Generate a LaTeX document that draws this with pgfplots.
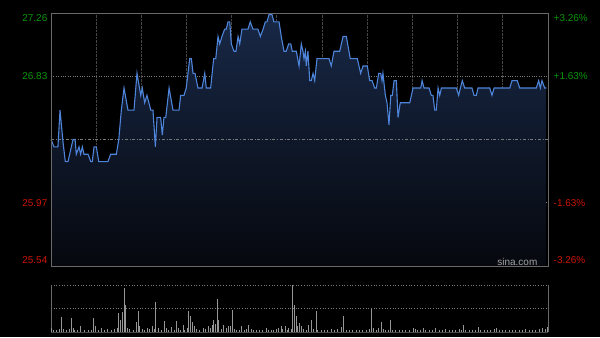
\documentclass[border=0pt]{standalone}
\usepackage{fontspec}
\setmainfont{Liberation Sans}
\usepackage{pgfplots}
\usepackage{pgfplotstable}
\pgfplotsset{compat=1.18}
\definecolor{framec}{RGB}{105,105,105}
\definecolor{gridc}{RGB}{70,70,70}
\definecolor{hgridc}{RGB}{120,120,120}
\definecolor{linec}{RGB}{78,132,218}
\definecolor{fillt}{RGB}{24,40,70}
\definecolor{fillb}{RGB}{6,8,14}
\definecolor{upc}{RGB}{10,150,10}
\definecolor{dnc}{RGB}{205,20,5}
\definecolor{volc}{RGB}{150,150,150}
\definecolor{wmc}{RGB}{165,165,165}

\pgfplotstableread{
m p
0 26.40
2 26.35
4.6 26.35
6 26.60
8 26.38
9.5 26.25
11.3 26.25
14.6 26.40
16 26.40
16.8 26.30
18.6 26.35
19.7 26.30
20.8 26.35
21.9 26.30
24.6 26.30
26.4 26.25
27.4 26.25
28.6 26.35
30.1 26.35
31.7 26.25
37.8 26.25
39.6 26.30
43.4 26.30
45 26.40
46.7 26.60
48.5 26.75
51.1 26.60
55.1 26.60
57.1 26.85
59.6 26.70
60.6 26.75
62.2 26.65
63.7 26.70
65.5 26.63
66.2 26.60
67.7 26.60
69.3 26.35
70.4 26.55
72.8 26.55
73.9 26.43
75 26.55
76.2 26.55
78.4 26.75
81 26.60
85 26.60
86.1 26.70
88.3 26.70
89.8 26.75
92.1 26.95
93.2 26.95
94.3 26.85
95.6 26.85
97.6 26.75
100.3 26.75
102.1 26.85
103.1 26.75
106 26.75
108 26.95
109.4 26.95
110.9 27.10
112 27.05
113.5 27.10
115.3 27.15
116.4 27.15
117.5 27.20
118.7 27.20
119.7 27.05
121.5 27.00
122.8 27.00
124.2 27.10
125.3 27.05
126.8 27.15
130.8 27.15
132.3 27.20
134.1 27.15
137.4 27.15
139 27.10
140.8 27.15
142.3 27.20
143.4 27.20
144.8 27.25
146.7 27.25
148 27.20
151.4 27.20
152.9 27.10
154.7 27.00
156.2 27.00
157.8 27.05
159.2 27.05
160.2 27.00
162.9 27.00
164.7 26.90
166.2 27.05
167.3 27.00
168 26.95
168.9 27.00
169.5 26.90
170.6 27.00
171.8 26.80
172.8 26.80
174 26.85
175.1 26.80
176.6 26.95
184.6 26.95
186.1 26.90
187.9 27.00
191.7 27.00
193.9 27.10
196.1 27.10
198.7 26.95
203.4 26.95
205.6 26.85
207.2 26.90
210 26.90
211.6 26.80
213.2 26.80
214.9 26.75
216 26.75
217.6 26.85
218.9 26.85
219.8 26.80
220.4 26.85
222 26.70
223.1 26.65
224.4 26.50
225.6 26.70
226.6 26.70
227.8 26.80
229.3 26.80
230.4 26.55
231.9 26.65
238.2 26.65
240.4 26.75
245.5 26.75
246.4 26.80
247.7 26.75
251 26.75
252.5 26.70
253.6 26.70
254.8 26.60
255.8 26.60
257 26.75
258.1 26.70
259.2 26.75
269.1 26.75
270.7 26.70
271.8 26.75
273.1 26.80
274.7 26.75
279.5 26.75
280.9 26.70
282.4 26.70
283.5 26.75
291.3 26.75
292.8 26.70
294.2 26.75
304.6 26.75
306.1 26.80
309.6 26.80
311.2 26.75
322.2 26.75
323.8 26.80
324.9 26.75
326 26.80
327.8 26.75
328.9 26.75
}\pricedata

\pgfplotstableread{
m v
0.2 4
1.3 2.3
3.5 2.3
5.3 3
6.9 15
8 3
10.2 2.3
12.4 3
13.5 14
14.6 4
15.7 2.3
17.5 2.3
19.7 6.3
22.4 2.3
24.6 1.7
26.8 2.3
28.3 14
29.7 5.7
31.2 2.3
33.4 4
35.6 1.7
37.4 3
40 2.3
42.3 3
43.8 4
44.9 19
46 12.3
47.6 19.7
48.5 44
49.6 27.3
50.7 4
51.8 3
54.4 2.3
56.7 9.7
57.8 20.7
58.9 5.7
60.6 3
62.2 2.3
64 4
65.5 3
67.1 5.7
68.4 3
69.5 30
71.1 4
73.3 2.3
75 11.3
76.6 4
78.1 2.3
79.9 5
81.7 2.3
83.2 10.7
84.3 4
86.1 2.3
87.6 7.3
88.8 2.3
90.5 4
91.4 20.7
92.7 15.7
93.8 9.7
94.9 5.7
96.5 3
98.7 2.3
100.9 4
102.5 3
104.2 5.7
106 4
107.1 7.3
108 11.7
109.3 8.3
110.6 33
111.4 11.7
112.9 3
114.5 7.3
116.2 4
117.8 5.7
119.1 6.3
120.7 21.7
121.8 3
123.3 2.3
125.1 2.3
126.6 6.3
128.4 2.3
130 3
131.3 7.3
132.8 3
134.4 2.3
136.2 1.7
138.4 1.7
140.6 2.3
142.8 4
144.6 2.3
146.1 1.7
147.7 2.3
149.4 3
151 4
152.8 6.3
153.9 3
155.4 5.7
156.7 2.3
157.8 4
159.4 3
160.5 47
161.6 27.3
162.7 15.7
163.8 5.7
164.9 9
166 5.7
167.6 3
169.4 2.3
170.9 7.3
172.7 12.3
174.2 3
176 20.7
177.1 2.3
179.3 2.3
181.5 1.7
183.7 2.3
185.9 3
188.2 2.3
190.4 3
192.6 5
194.1 15.7
195.9 2.3
198.1 2.3
200.3 1.7
202.5 2.3
204.8 2.3
207 1.7
209.2 2.3
211.4 3
212.9 23
214.3 4
215.8 2.3
217.6 4
219.1 9.7
220.7 3
222 2.3
223.8 2.3
225.5 12.3
226.6 1.7
228.8 1.7
231 1.7
233.3 1.7
235.5 2.3
237.7 2.3
240.6 4
241.7 3
243.2 2.3
245.4 1.7
247.2 4
248.8 2.3
251 1.7
253.2 2.3
255.4 4
257.6 1.7
259.8 2.3
262 3
264.3 2.3
266.5 1.7
268.7 2.3
270.9 3
272.4 1.7
273.8 7.3
275.3 2.3
277.5 1.7
279.7 2.3
282 1.7
283.5 5
285.3 2.3
287.5 1.7
289.7 2.3
291.9 2.3
294.1 3
295.9 4
297.4 2.3
299.7 1.7
301.9 2.3
304.1 1.7
306.3 2.3
308.5 1.7
310.7 2.3
313 1.7
315.2 3
317.4 2.3
319.6 1.7
321.8 2.3
324 3
326.2 4
328.4 3
329.5 5
}\voldata

\begin{document}
\begin{tikzpicture}[x=1bp,y=1bp]
\fill[black] (0,0) rectangle (600,337);
% main price panel
\begin{axis}[
  at={(51bp,71bp)}, anchor=south west, scale only axis,
  width=497bp, height=253bp,
  xmin=0, xmax=330, ymin=25.54, ymax=27.26,
  axis line style={framec, line width=0.8pt},
  xtick={30,60,...,300}, ytick={25.97,26.83},
  xticklabels={}, yticklabels={},
  major tick length=0pt,
  xmajorgrids, ymajorgrids,
  x grid style={gridc, densely dotted, line width=0.9pt},
  y grid style={hgridc, dotted, line width=0.6pt},
  clip=false, axis on top=false]
  \addplot[draw=none, top color=fillt, bottom color=fillb]
    table[x=m, y=p] {\pricedata} -- (axis cs:328.9,25.54) -- (axis cs:0,25.54) -- cycle;
  \draw[hgridc, dash dot, line width=0.6pt] (axis cs:0,26.40) -- (axis cs:330,26.40);
  \addplot[linec, line width=1.1pt, mark=none] table[x=m, y=p] {\pricedata};
  \draw[framec, line width=0.8pt] (rel axis cs:0,0) rectangle (rel axis cs:1,1);
\end{axis}
% volume panel
\begin{axis}[
  at={(51bp,5bp)}, anchor=south west, scale only axis,
  width=497bp, height=47bp,
  xmin=0, xmax=330, ymin=0, ymax=47,
  axis line style={draw=none},
  xtick=\empty, ytick=\empty,
  clip=false]
  \draw[hgridc, dotted, line width=0.7pt] (axis cs:0,47) -- (axis cs:330,47);
  \draw[hgridc, dotted, line width=0.7pt] (axis cs:0,23.5) -- (axis cs:330,23.5);
  \draw[gridc, line width=0.6pt] (axis cs:0,0) -- (axis cs:330,0);
  \draw[framec, line width=0.8pt] (axis cs:0,0) -- (axis cs:0,47);
  \draw[framec, line width=0.8pt] (axis cs:330,0) -- (axis cs:330,47);
  \addplot[ycomb, volc, line width=0.8pt, mark=none] table[x=m, y=v] {\voldata};
\end{axis}
% axis value labels
\begin{scope}[font=\fontsize{10}{12}\selectfont]
\node[anchor=east, text=upc, inner sep=0pt] at (47.5,318.5) {27.26};
\node[anchor=east, text=upc, inner sep=0pt] at (47.5,260.5) {26.83};
\node[anchor=east, text=dnc, inner sep=0pt] at (47.5,134) {25.97};
\node[anchor=east, text=dnc, inner sep=0pt] at (47.5,77) {25.54};
\node[anchor=west, text=upc, inner sep=0pt] at (553.5,318.5) {+3.26\%};
\node[anchor=west, text=upc, inner sep=0pt] at (553.5,260.5) {+1.63\%};
\node[anchor=west, text=dnc, inner sep=0pt] at (553.5,134) {-1.63\%};
\node[anchor=west, text=dnc, inner sep=0pt] at (553.5,77) {-3.26\%};
\node[anchor=east, text=wmc, inner sep=0pt] at (537.5,75.5) {sina.com};
\end{scope}
\end{tikzpicture}
\end{document}
